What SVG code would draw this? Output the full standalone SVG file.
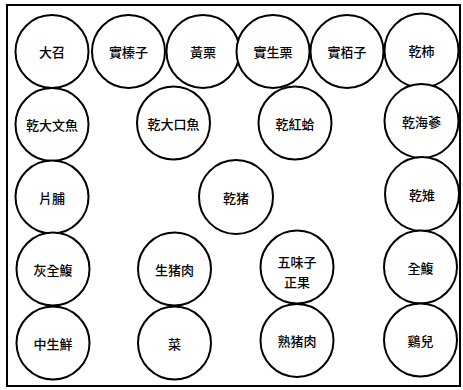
<svg xmlns="http://www.w3.org/2000/svg" width="463" height="390" viewBox="0 0 463 390">
<style>
.n circle{fill:#fff;stroke:#000;stroke-width:2}
.n text{font-family:"Noto Sans CJK TC","Noto Sans CJK SC",sans-serif;font-size:13px;font-weight:500;text-anchor:middle;dominant-baseline:central;fill:#000}
</style>
<rect x="7" y="5" width="453" height="381" fill="#fff" stroke="#000" stroke-width="2"/>
<g id="connectors"/>
<g id="n1" class="n"><circle cx="52" cy="51.5" r="36.5"/><text x="52" y="51.5">大召</text></g>
<g id="n2" class="n"><circle cx="128.5" cy="51.5" r="36.5"/><text x="128.5" y="51.5">實榛子</text></g>
<g id="n3" class="n"><circle cx="203" cy="51.5" r="36.5"/><text x="203" y="51.5">黃栗</text></g>
<g id="n4" class="n"><circle cx="273" cy="51.5" r="36.5"/><text x="273" y="51.5">實生栗</text></g>
<g id="n5" class="n"><circle cx="347" cy="51.5" r="36.5"/><text x="347" y="51.5">實栢子</text></g>
<g id="n6" class="n"><circle cx="421.5" cy="50.5" r="37"/><text x="421.5" y="50.5">乾柿</text></g>
<g id="n7" class="n"><circle cx="52" cy="124.5" r="36.5"/><text x="52" y="124.5">乾大文魚</text></g>
<g id="n8" class="n"><circle cx="173.5" cy="123" r="36.5"/><text x="173.5" y="123">乾大口魚</text></g>
<g id="n9" class="n"><circle cx="295" cy="123" r="36.5"/><text x="295" y="123">乾紅蛤</text></g>
<g id="n10" class="n"><circle cx="421.5" cy="121" r="37"/><text x="421.5" y="121">乾海蔘</text></g>
<g id="n11" class="n"><circle cx="52" cy="197" r="36.5"/><text x="52" y="197">片脯</text></g>
<g id="n12" class="n"><circle cx="236" cy="197" r="37"/><text x="236" y="197">乾猪</text></g>
<g id="n13" class="n"><circle cx="422" cy="194" r="37"/><text x="422" y="194">乾雉</text></g>
<g id="n14" class="n"><circle cx="53" cy="269" r="36.5"/><text x="53" y="269">灰全鰒</text></g>
<g id="n15" class="n"><circle cx="174.5" cy="269" r="36.5"/><text x="174.5" y="269">生猪肉</text></g>
<g id="n16" class="n"><circle cx="297" cy="267" r="36.5"/><text x="297" y="261">五味子</text><text x="297" y="281">正果</text></g>
<g id="n17" class="n"><circle cx="420.5" cy="267" r="36.5"/><text x="420.5" y="267">全鰒</text></g>
<g id="n18" class="n"><circle cx="53" cy="343" r="36.5"/><text x="53" y="343">中生鮮</text></g>
<g id="n19" class="n"><circle cx="174.5" cy="343" r="36.5"/><text x="174.5" y="343">菜</text></g>
<g id="n20" class="n"><circle cx="297" cy="340.5" r="36.5"/><text x="297" y="340.5">熟猪肉</text></g>
<g id="n21" class="n"><circle cx="420.5" cy="340" r="36.5"/><text x="420.5" y="340">鷄兒</text></g>
</svg>
